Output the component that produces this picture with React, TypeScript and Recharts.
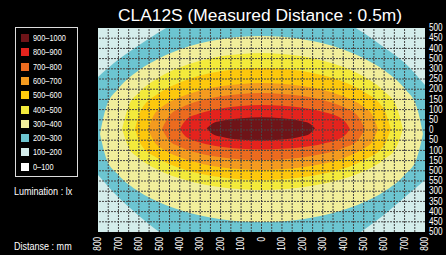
import { Area, ComposedChart, ReferenceLine, XAxis, YAxis } from "recharts";

type Outline = [number, number, number][]; // [x mm, lower y mm, upper y mm]

const title = "CLA12S (Measured Distance : 0.5m)";

const legendLabels = ["900–1000", "800–900", "700–800", "600–700", "500–600", "400–500", "300–400", "200–300", "100–200", "0–100"];
const legendColors = ["#6E1418", "#E4231D", "#EC6B1F", "#F49B1F", "#FDC80D", "#F3EA3B", "#F1EE9B", "#6CC5D1", "#D4EDEB", "#FFFFFF"];

// outlines of each illuminance level, outer to inner
const band100: Outline = [[-800, -500, 500], [800, -500, 500]];
const band200: Outline = [
  [-800, -220, 260], [-700, -330, 345], [-600, -420, 415], [-500, -500, 480], [-400, -560, 535],
  [-300, -595, 565], [-200, -615, 585], [-100, -625, 597], [0, -628, 600], [100, -625, 597],
  [200, -615, 585], [300, -595, 565], [400, -560, 535], [500, -490, 475], [600, -415, 405],
  [700, -330, 330], [800, -245, 220],
];
const band300: Outline = [
  [-790, -20, -20], [-760, -138, 111], [-700, -220, 203], [-600, -301, 293], [-500, -354, 352],
  [-400, -392, 395], [-300, -419, 425], [-200, -437, 445], [-100, -448, 457], [0, -451, 461],
  [100, -448, 457], [200, -437, 445], [300, -419, 425], [400, -392, 395], [500, -354, 352],
  [600, -301, 293], [700, -220, 203], [760, -138, 111], [790, -20, -20],
];
const band400: Outline = [
  [-682, 5, 5], [-650, -86, 118], [-600, -137, 182], [-500, -198, 258], [-400, -237, 306],
  [-300, -264, 339], [-200, -281, 361], [-100, -291, 373], [0, -294, 377], [100, -291, 373],
  [200, -281, 361], [300, -264, 340], [400, -239, 309], [500, -202, 262], [600, -144, 190],
  [660, -85, 117], [692, 5, 5],
];
const band500: Outline = [
  [-619, 5, 5], [-590, -71, 96], [-500, -142, 181], [-400, -186, 233], [-300, -214, 267],
  [-200, -232, 288], [-100, -242, 300], [0, -245, 304], [100, -242, 300], [200, -232, 289],
  [300, -215, 268], [400, -189, 237], [500, -148, 188], [600, -75, 100], [633, 5, 5],
];
const band600: Outline = [
  [-555, 5, 5], [-520, -65, 84], [-500, -82, 103], [-400, -134, 161], [-300, -164, 194],
  [-200, -183, 215], [-100, -193, 226], [0, -196, 230], [100, -193, 227], [200, -183, 216],
  [300, -166, 196], [400, -138, 165], [500, -91, 113], [540, -60, 77], [570, 5, 5],
];
const band700: Outline = [
  [-487, 5, 5], [-450, -53, 72], [-400, -82, 106], [-300, -115, 144], [-200, -134, 166],
  [-100, -144, 177], [0, -147, 181], [100, -144, 177], [200, -135, 167], [300, -117, 147],
  [400, -88, 113], [470, -51, 70], [506, 5, 5],
];
const band800: Outline = [
  [-399, 5, 5], [-370, -33, 49], [-300, -61, 82], [-200, -82, 106], [-100, -92, 118],
  [0, -95, 122], [100, -92, 119], [200, -84, 109], [300, -67, 89], [400, -33, 50], [433, 5, 5],
];
const band900: Outline = [
  [-268, 8, 8], [-240, -19, 32], [-200, -32, 44], [-100, -48, 58], [0, -52, 62],
  [100, -47, 58], [200, -31, 43], [235, -19, 32], [262, 8, 8],
];

const levels = [
  { key: "l100", color: "#D4EDEB", outline: band100 },
  { key: "l200", color: "#6CC5D1", outline: band200 },
  { key: "l300", color: "#F1EE9B", outline: band300 },
  { key: "l400", color: "#F3EA3B", outline: band400 },
  { key: "l500", color: "#FDC80D", outline: band500 },
  { key: "l600", color: "#F49B1F", outline: band600 },
  { key: "l700", color: "#EC6B1F", outline: band700 },
  { key: "l800", color: "#E4231D", outline: band800 },
  { key: "l900", color: "#6E1418", outline: band900 },
];

const xTicks = [-800, -700, -600, -500, -400, -300, -200, -100, 0, 100, 200, 300, 400, 500, 600, 700, 800];
const xTickLabels = ["800", "700", "600", "500", "400", "300", "200", "100", "0", "100", "200", "300", "400", "500", "600", "700", "800"];
const yTicks = [500, 450, 400, 350, 300, 250, 200, 150, 100, 50, 0, -50, -100, -150, -200, -250, -300, -350, -400, -450, -500];
const yTickLabels = ["500", "450", "400", "500", "300", "250", "200", "150", "100", "50", "0", "50", "100", "150", "500", "550", "300", "350", "400", "450", "500"];
const gridX = [-750, -700, -650, -600, -550, -500, -450, -400, -350, -300, -250, -200, -150, -100, -50, 0, 50, 100, 150, 200, 250, 300, 350, 400, 450, 500, 550, 600, 650, 700, 750];
const gridY = [450, 400, 350, 300, 250, 200, 150, 100, 50, 0, -50, -100, -150, -200, -250, -300, -350, -400, -450];

const allX = Array.from(new Set(levels.flatMap((l) => l.outline.map((p) => p[0])))).sort((a, b) => a - b);
const tableData = allX.map((x) => {
  const row: Record<string, number | number[] | null> = { x };
  levels.forEach((l) => {
    const p = l.outline.find((q) => q[0] === x);
    row[l.key] = p ? [p[1], p[2]] : null;
  });
  return row;
});

// no narrow face installed: squeeze Liberation Sans instead
const sans = '"Liberation Sans", Arial, sans-serif';
const squeeze = 0.82;

function BottomTick({ x, y, payload }: any) {
  const label = xTickLabels[xTicks.indexOf(payload.value)];
  return (
    <g transform={`translate(${x},${y}) rotate(-90) scale(${squeeze},1)`}>
      <text x={0} y={0} textAnchor="end" dominantBaseline="central" fill="#fff" fontSize={10} fontFamily={sans}>
        {label}
      </text>
    </g>
  );
}

function RightTick({ x, y, payload }: any) {
  const label = yTickLabels[yTicks.indexOf(payload.value)];
  return (
    <g transform={`translate(${x},${y}) scale(${squeeze},1)`}>
      <text x={0} y={0} textAnchor="start" dominantBaseline="central" fill="#fff" fontSize={10} fontFamily={sans}>
        {label}
      </text>
    </g>
  );
}

const narrowText = {
  display: "inline-block",
  color: "#fff",
  fontFamily: sans,
  transform: `scaleX(${squeeze})`,
  transformOrigin: "left center",
  whiteSpace: "nowrap" as const,
};

export default function App() {
  return (
    <div style={{ position: "fixed", left: 0, top: 0, width: 446, height: 255, background: "#000", overflow: "hidden" }}>
      <div style={{ position: "absolute", left: 0, width: 520, top: 5, textAlign: "center" }}>
        <span style={{ display: "inline-block", color: "#fff", fontFamily: sans, fontSize: 17.4, lineHeight: "20px", whiteSpace: "nowrap" }}>
          {title}
        </span>
      </div>

      <div style={{ position: "absolute", left: 15, top: 27, width: 61, height: 148, border: "1px solid #ddd" }}>
        {legendLabels.map((label, i) => (
          <div key={label} style={{ position: "absolute", left: 5, top: 5 + i * 14.3, height: 10, display: "flex", alignItems: "center" }}>
            <div style={{ width: 8, height: 8, background: legendColors[i] }} />
            <span style={{ ...narrowText, marginLeft: 4, fontSize: 9, lineHeight: "10px" }}>{label}</span>
          </div>
        ))}
      </div>

      <div style={{ position: "absolute", left: 14, top: 181 }}>
        <span style={{ ...narrowText, fontSize: 11, lineHeight: "16px" }}>Lumination : lx</span>
      </div>
      <div style={{ position: "absolute", left: 14, top: 236 }}>
        <span style={{ ...narrowText, fontSize: 11, lineHeight: "16px" }}>Distanse : mm</span>
      </div>

      <div style={{ position: "absolute", left: 0, top: 0 }}>
        <ComposedChart width={446} height={255} data={tableData} margin={{ top: 28, right: 0, bottom: 0, left: 98 }}>
          <XAxis
            dataKey="x" type="number" domain={[-800, 800]} ticks={xTicks} interval={0} allowDataOverflow
            height={23} axisLine={false} tickLine={false} tickSize={0} tickMargin={5} tick={<BottomTick />}
          />
          <YAxis
            orientation="right" type="number" domain={[-500, 500]} ticks={yTicks} interval={0} allowDataOverflow
            width={21} axisLine={false} tickLine={false} tickSize={0} tickMargin={4} tick={<RightTick />}
          />
          {levels.map((l) => (
            <Area
              key={l.key} dataKey={l.key} type="monotone" fill={l.color} fillOpacity={1} stroke="none"
              connectNulls isAnimationActive={false} activeDot={false} dot={false}
            />
          ))}
          {gridX.map((v) => (
            <ReferenceLine key={`gx${v}`} x={v} stroke="#454545" strokeDasharray="2 1" />
          ))}
          {gridY.map((v) => (
            <ReferenceLine key={`gy${v}`} y={v} stroke="#454545" strokeDasharray="2 1" />
          ))}
        </ComposedChart>
      </div>
    </div>
  );
}
